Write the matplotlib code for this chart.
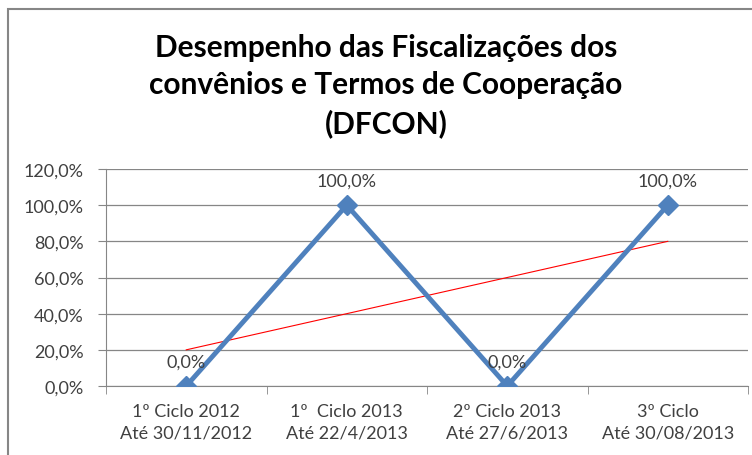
import matplotlib.pyplot as plt
import numpy as np
from matplotlib.patches import Rectangle
from matplotlib.ticker import FuncFormatter

# dados do grafico
categorias = ["1º Ciclo 2012\nAté 30/11/2012", "1º  Ciclo 2013\nAté 22/4/2013",
              "2º Ciclo 2013\nAté 27/6/2013", "3º Ciclo\nAté 30/08/2013"]
desempenho = [0.0, 100.0, 0.0, 100.0]
titulo = "Desempenho das Fiscalizações dos\nconvênios e Termos de Cooperação\n(DFCON)"

plt.rcParams['font.family'] = ['Lato', 'DejaVu Sans']

fig = plt.figure(figsize=(7.52, 4.56), dpi=100)
ax = fig.add_axes([106 / 752, 1 - 387 / 456, 642 / 752, 217 / 456])

x = np.arange(len(categorias))
ax.plot(x, desempenho, color="#4f81bd", lw=3.5, marker="D", ms=10, zorder=3)

# linha de tendencia linear
coef = np.polyfit(x, desempenho, 1)
ax.plot(x, np.polyval(coef, x), color="red", lw=0.8, zorder=2)

for xi, v in zip(x, desempenho):
    ax.annotate(f"{v:.1f}%".replace(".", ","), (xi, v), xytext=(0, 12),
                textcoords="offset points", ha="center", va="bottom",
                fontsize=13, color="#404040")

ax.set_xlim(-0.5, len(categorias) - 0.5)
ax.set_ylim(0, 120)
ax.set_yticks(np.arange(0, 121, 20))
ax.yaxis.set_major_formatter(FuncFormatter(lambda v, p: f"{v:.1f}%".replace(".", ",")))
ax.set_xticks(x)
ax.set_xticklabels(categorias, fontsize=13, color="#404040", linespacing=1.45)
ax.set_xticks(np.arange(-0.5, len(categorias)), minor=True)
ax.tick_params(axis="x", which="major", length=0, pad=12)
ax.tick_params(axis="x", which="minor", length=6, color="#868686", direction="out")
ax.tick_params(axis="y", labelsize=13, labelcolor="#404040", length=6, color="#868686", pad=10)
ax.grid(axis="y", color="#868686", lw=0.9)
ax.set_axisbelow(True)
for s in ["top", "right"]:
    ax.spines[s].set_visible(False)
ax.spines["left"].set_color("#868686")
ax.spines["bottom"].set_color("#868686")

fig.text(386 / 752, 1 - 86 / 456, titulo, ha="center", va="center",
         fontsize=21.5, fontweight="bold", linespacing=1.42)

# moldura do grafico
fig.patches.append(Rectangle((8 / 752, -0.1), 1.0, 1.1 - 10 / 456, transform=fig.transFigure,
                             fill=False, edgecolor="#868686", lw=1.5))

fig.savefig("out.png")
